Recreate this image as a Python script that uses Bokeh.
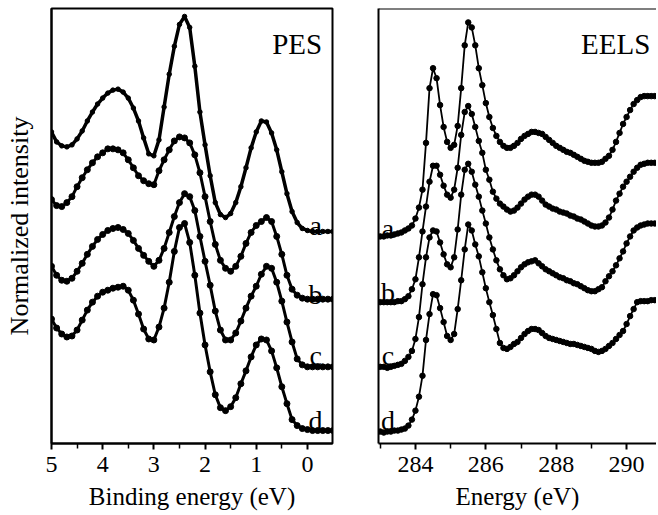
import numpy as np
from bokeh.plotting import figure
from bokeh.layouts import row
from bokeh.models import Range1d, FixedTicker, Span
from bokeh.core.properties import value
from bokeh.embed import file_html
from bokeh.resources import INLINE

# ---------------- data ----------------
# PES: binding energy grid (eV), 5.0 -> -0.5
pes_energy = np.round(np.arange(5.0, -0.55, -0.1), 1)
# stacked normalized intensity (arb. units)
pes_a = [313, 303, 299, 298, 300, 306, 314, 324, 333, 341,
         347, 352, 355, 356, 353, 347, 337, 324, 307, 291,
         289, 305, 338, 371, 399, 421, 429, 418, 379, 333,
         300, 269, 242, 230, 227, 231, 242, 258, 277, 297,
         313, 324, 323, 312, 295, 273, 251, 233, 222, 216,
         214, 213, 213, 213, 213, 213]
pes_b = [245, 239, 238, 242, 248, 258, 267, 275, 282, 288,
         292, 296, 296, 295, 292, 285, 277, 269, 264, 261,
         260, 274, 285, 295, 304, 308, 307, 302, 290, 272,
         248, 223, 200, 184, 176, 173, 178, 188, 201, 212,
         219, 223, 227, 223, 208, 190, 169, 155, 149, 146,
         145, 145, 145, 145, 145, 145]
pes_c = [178, 169, 164, 163, 166, 173, 181, 190, 198, 205,
         210, 214, 216, 217, 215, 211, 204, 196, 189, 183,
         178, 184, 196, 212, 228, 242, 251, 248, 234, 208,
         183, 159, 133, 114, 104, 104, 111, 123, 136, 148,
         158, 170, 178, 176, 162, 143, 122, 102, 85, 79,
         77, 77, 77, 77, 77, 77]
pes_d = [125, 116, 110, 107, 108, 114, 124, 134, 142, 148,
         152, 154, 156, 157, 158, 154, 144, 130, 115, 105,
         104, 117, 136, 162, 193, 217, 221, 202, 169, 131,
         99, 72, 49, 36, 33, 37, 46, 60, 73, 87,
         99, 105, 104, 93, 76, 57, 40, 24, 18, 15,
         14, 13, 13, 13, 13, 13]

# EELS: energy grid (eV), 283.0 -> 290.8
eels_energy = np.round(np.arange(283.0, 290.85, 0.1), 1)
eels_a = [208, 208, 209, 209, 210, 211, 212, 214, 216, 219,
          226, 237, 255, 302, 357, 377, 367, 340, 318, 303,
          297, 300, 319, 357, 400, 423, 418, 400, 377, 360,
          342, 328, 317, 309, 303, 299, 297, 297, 299, 302,
          306, 309, 311, 313, 313, 312, 311, 308, 305, 302,
          299, 297, 295, 293, 292, 290, 288, 286, 284, 283,
          282, 282, 282, 283, 286, 289, 295, 303, 312, 321,
          328, 335, 341, 345, 348, 349, 349, 349, 349]
eels_b = [142, 142, 142, 142, 142, 143, 143, 145, 148, 155,
          165, 187, 213, 238, 263, 279, 279, 270, 259, 250,
          247, 255, 277, 310, 333, 339, 331, 318, 304, 292,
          275, 265, 253, 246, 241, 238, 235, 233, 234, 237,
          241, 245, 248, 250, 250, 248, 244, 240, 238, 236,
          235, 233, 232, 231, 229, 228, 226, 225, 223, 221,
          219, 218, 218, 219, 222, 227, 235, 244, 251, 258,
          263, 268, 273, 277, 280, 281, 282, 282, 282]
eels_c = [77, 77, 76, 77, 78, 79, 80, 83, 87, 93,
          105, 127, 160, 187, 207, 214, 213, 202, 190, 180,
          177, 187, 215, 250, 275, 281, 273, 260, 248, 234,
          221, 207, 195, 184, 175, 169, 165, 166, 169, 173,
          177, 180, 182, 183, 184, 181, 178, 175, 173, 171,
          169, 167, 166, 164, 163, 161, 160, 158, 156, 154,
          153, 153, 155, 157, 163, 168, 173, 179, 186, 193,
          201, 208, 214, 217, 219, 220, 221, 221, 221]
eels_d = [12, 11, 12, 12, 13, 13, 14, 15, 18, 24,
          33, 47, 68, 104, 130, 150, 149, 136, 122, 108,
          104, 110, 135, 164, 195, 220, 214, 200, 188, 172,
          156, 142, 129, 115, 101, 96, 95, 97, 100, 102,
          106, 110, 113, 115, 115, 114, 111, 108, 106, 105,
          104, 103, 102, 101, 100, 100, 99, 98, 97, 96,
          95, 93, 92, 93, 95, 98, 101, 105, 109, 113,
          120, 128, 135, 142, 143, 143, 143, 144, 144]

curve_names = ["a", "b", "c", "d"]
pes_ticks = [5, 4, 3, 2, 1, 0]
pes_minor = [4.5, 3.5, 2.5, 1.5, 0.5]
eels_ticks = [284, 286, 288, 290]
eels_minor = [283, 285, 287, 289]

FONT = "Liberation Serif"
Y_MAX = 437
H = 515


def style(p, ticks, minor, xlabel, ylabel):
    p.grid.visible = False
    p.background_fill_color = "white"
    p.border_fill_color = "white"
    ax = p.xaxis[0]
    ax.ticker = FixedTicker(ticks=ticks, minor_ticks=minor)
    ax.axis_line_width = 2
    ax.axis_line_color = "black"
    ax.major_tick_line_width = 2
    ax.major_tick_out = 6
    ax.major_tick_in = 0
    ax.minor_tick_line_width = 1.5
    ax.minor_tick_out = 5
    ax.minor_tick_in = 0
    ax.major_label_text_font = FONT
    ax.major_label_text_font_size = "24px"
    ax.major_label_text_color = "black"
    ax.major_label_standoff = 7
    ax.axis_label = xlabel
    ax.axis_label_text_font = FONT
    ax.axis_label_text_font_size = "25px"
    ax.axis_label_text_font_style = "normal"
    ax.axis_label_text_color = "black"
    ax.axis_label_standoff = 8
    ay = p.yaxis[0]
    ay.ticker = FixedTicker(ticks=[])
    ay.axis_line_width = 2
    ay.axis_line_color = "black"
    if ylabel:
        ay.axis_label = ylabel
        ay.axis_label_text_font = FONT
        ay.axis_label_text_font_size = "26px"
        ay.axis_label_text_font_style = "normal"
        ay.axis_label_text_color = "black"
        ay.axis_label_standoff = 18


def draw_curves(p, x, series, line_w, dot):
    for ys in series:
        p.line(x, ys, line_width=line_w, line_color="black")
        p.scatter(x, ys, size=dot, marker="circle",
                  fill_color="black", line_color="black")


# ---------------- PES panel ----------------
p1 = figure(width=346, height=H, output_backend="svg", toolbar_location=None,
            x_range=Range1d(5.0, -0.49), y_range=Range1d(0, Y_MAX),
            min_border_left=51, min_border_right=14, min_border_top=8,
            min_border_bottom=72)
style(p1, pes_ticks, pes_minor, "Binding energy (eV)", "Normalized intensity")
p1.outline_line_color = "black"
p1.outline_line_width = 2
p1.outline_line_alpha = 1
draw_curves(p1, pes_energy, [pes_a], 3.5, 4.5)
draw_curves(p1, pes_energy, [pes_b, pes_c, pes_d], 3, 6)
p1.text(x=[-0.16] * 4, y=[219, 150, 88, 23], text=curve_names,
        text_font=value(FONT), text_font_size="28px", text_align="center",
        text_baseline="alphabetic", text_color="black")
p1.text(x=[0.2], y=[401], text=["PES"], text_font=value(FONT),
        text_font_size="29px", text_align="center",
        text_baseline="alphabetic", text_color="black")

# ---------------- EELS panel ----------------
p2 = figure(width=310, height=H, output_backend="svg", toolbar_location=None,
            x_range=Range1d(282.95, 290.85), y_range=Range1d(0, Y_MAX),
            min_border_left=32, min_border_right=0, min_border_top=8,
            min_border_bottom=72)
style(p2, eels_ticks, eels_minor, "Energy (eV)", None)
p2.outline_line_color = None
p2.add_layout(Span(location=Y_MAX, dimension="width", line_color="black",
                   line_width=2))
draw_curves(p2, eels_energy, [eels_a, eels_b, eels_c, eels_d], 1.8, 5.5)
p2.text(x=[283.22] * 4, y=[216, 152, 88, 23], text=curve_names,
        text_font=value(FONT), text_font_size="28px", text_align="center",
        text_baseline="alphabetic", text_color="black")
p2.text(x=[289.69], y=[401], text=["EELS"], text_font=value(FONT),
        text_font_size="29px", text_align="center",
        text_baseline="alphabetic", text_color="black")

layout = row(p1, p2)
open("out.html", "w").write(file_html(layout, INLINE))
